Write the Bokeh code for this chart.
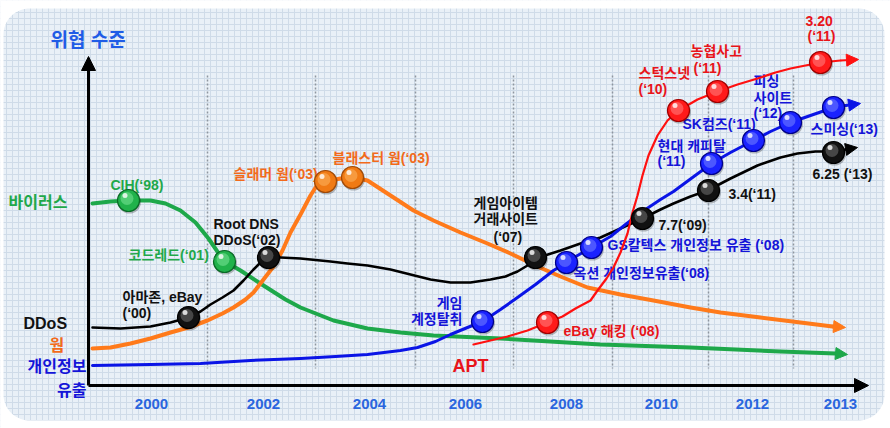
import numpy as np
from bokeh.plotting import figure
from bokeh.models import Range1d, Grid, SingleIntervalTicker, Arrow, NormalHead, ColumnDataSource
from bokeh.core.properties import value
from bokeh.embed import file_html
from bokeh.resources import INLINE

# ---------------- data (schematic timeline position, threat level in chart units) -------------
# Virus (green)
virus_x = [92, 110, 128, 150, 165, 180, 195, 208, 223, 240, 263, 285, 300, 333, 367, 400, 433, 500, 600, 690, 780, 835, 847]
virus_y = [203, 201, 200, 200, 203, 210, 222, 238, 260, 270, 285, 299, 307, 320, 328, 332, 335, 338, 344, 347, 351, 353, 354]
virus_evt_x = [128, 224]
virus_evt_y = [200, 261]

# Worm (orange)
worm_x = [92, 110, 130, 150, 170, 188, 207, 222, 233, 245, 253, 263, 273, 282, 290, 300, 310, 317, 325, 340, 353, 367, 390,
          413, 433, 460, 487, 510, 537, 560, 587, 620, 653, 690, 720, 760, 800, 832, 845]
worm_y = [348, 347, 343, 338, 332, 327, 320, 313, 307, 299, 292, 279, 266, 250, 232, 214, 195, 184, 181, 178, 177, 180, 195,
          210, 220, 232, 243, 253, 266, 276, 287, 294, 300, 307, 312, 317, 322, 326, 327]
worm_evt_x = [325, 352]
worm_evt_y = [181, 177]

# DDoS (black)
ddos_x = [92, 120, 150, 170, 188, 200, 210, 222, 233, 243, 253, 261, 268, 280, 300, 330, 347, 367, 390, 410, 430, 450, 470,
          490, 505, 517, 527, 535, 560, 580, 600, 620, 642, 660, 673, 690, 707, 730, 757, 780, 797, 815, 833, 845, 857]
ddos_y = [327, 328, 326, 322, 317, 311, 304, 297, 290, 280, 269, 261, 257, 257, 258, 261, 263, 265, 269, 274, 279, 282, 282,
          279, 276, 271, 265, 258, 250, 243, 237, 228, 218, 209, 203, 196, 190, 178, 165, 157, 153, 151, 151, 149, 147]
ddos_evt_x = [188, 268, 535, 642, 708, 833]
ddos_evt_y = [317, 257, 257, 218, 190, 152]

# Personal information leak (blue)
leak_x = [92, 150, 200, 250, 300, 335, 367, 400, 417, 435, 450, 467, 482, 500, 517, 535, 553, 566, 577, 591, 610, 625, 642,
          660, 673, 692, 711, 730, 753, 770, 790, 810, 833, 845, 860]
leak_y = [365, 364, 363, 360, 358, 356, 354, 350, 347, 341, 334, 327, 321, 309, 297, 284, 270, 262, 255, 247, 236, 224, 211,
          199, 191, 177, 163, 152, 140, 131, 122, 115, 107, 105, 103]
leak_evt_x = [482, 566, 591, 711, 753, 790, 833]
leak_evt_y = [321, 262, 247, 163, 140, 122, 107]

# APT (red)
apt_x = [473, 490, 507, 527, 547, 562, 575, 590, 597, 606, 613, 620, 627, 632, 637, 642, 648, 657, 667, 678, 697, 717, 737,
         757, 775, 790, 805, 820, 840, 858]
apt_y = [344, 340, 336, 330, 322, 316, 308, 300, 290, 278, 267, 252, 233, 212, 195, 175, 155, 135, 120, 110, 99, 91, 84,
         78, 72, 68, 65, 62, 60, 59]
apt_evt_x = [547, 678, 717, 820]
apt_evt_y = [322, 110, 91, 62]

# Year ticks on the time axis
year_labels = ["2000", "2002", "2004", "2006", "2008", "2010", "2012", "2013"]
year_pos = [151, 263, 369, 465, 566, 661, 752, 840]
divider_pos = [207, 315, 415, 513, 612, 708, 793]

# Event / series labels
GREEN_T, ORANGE_T, BLACK_T, BLUE_T, RED_T = "#1fa84a", "#f26a1b", "#111111", "#1414d8", "#e8141a"
label_text = ["CIH(‘98)", "코드레드(‘01)", "아마존, eBay", "(‘00)", "Root DNS", "DDoS(‘02)",
              "슬래머 웜(‘03)", "블래스터 웜(‘03)", "게임아이템", "거래사이트", "(‘07)",
              "게임", "계정탈취", "eBay 해킹 (‘08)", "옥션 개인정보유출(‘08)", "GS칼텍스 개인정보 유출 (‘08)",
              "7.7(‘09)", "3.4(‘11)", "6.25 (‘13)", "현대 캐피탈", "(‘11)", "SK컴즈(‘11)",
              "피싱", "사이트", "(‘12)", "스미싱(‘13)", "스턱스넷", "(‘10)", "농협사고", "(‘11)", "3.20", "(‘11)"]
label_x = [110, 128, 122, 122, 213, 213, 233, 332, 473, 473, 493, 462, 462, 563, 573, 607,
           658, 728, 812, 657, 657, 682, 753, 753, 753, 810, 638, 638, 690, 693, 805, 807]
label_y = [184, 254, 296, 312, 223, 239, 173, 157, 202, 218, 236, 302, 318, 330, 272, 244,
           224, 193, 173, 145, 160, 123, 80, 97, 112, 128, 72, 88, 50, 67, 20, 35]
label_color = [GREEN_T, GREEN_T, BLACK_T, BLACK_T, BLACK_T, BLACK_T, ORANGE_T, ORANGE_T, BLACK_T, BLACK_T, BLACK_T,
               BLUE_T, BLUE_T, RED_T, BLUE_T, BLUE_T, BLACK_T, BLACK_T, BLACK_T, BLUE_T, BLUE_T, BLUE_T,
               BLUE_T, BLUE_T, BLUE_T, BLUE_T, RED_T, RED_T, RED_T, RED_T, RED_T, RED_T]
label_align = ["left"] * 11 + ["right", "right"] + ["left"] * 19

series_text = ["바이러스", "DDoS", "웜", "개인정보", "유출", "APT"]
series_x = [8, 23, 49, 86, 86, 452]
series_y = [202, 323, 345, 366, 390, 365]
series_color = [GREEN_T, BLACK_T, ORANGE_T, BLUE_T, BLUE_T, RED_T]
series_align = ["left", "left", "left", "right", "right", "left"]
series_size = ["16px", "16px", "16px", "16px", "16px", "18px"]

FONT = value("Liberation Sans, Noto Sans CJK KR")

# ---------------- figure ----------------
p = figure(width=890, height=428, x_range=Range1d(0, 890), y_range=Range1d(428, 0),
           x_axis_type=None, y_axis_type=None, output_backend="svg", toolbar_location=None,
           min_border=0, background_fill_color="#e9f0f7", border_fill_color="white")
p.outline_line_color = None

for dim in (0, 1):
    p.add_layout(Grid(dimension=dim, ticker=SingleIntervalTicker(interval=6),
                      grid_line_color="#cfdbe8", grid_line_width=1))

# white surround with a rounded-rectangle hole (the light panel)
r = 26
L, R, T, B = 3, 884, 8, 420
hx, hy = [], []
for cx, cy, a0, a1 in [(R - r, T + r, 0, 90), (L + r, T + r, 90, 180), (L + r, B - r, 180, 270), (R - r, B - r, 270, 360)]:
    t = np.radians(np.linspace(a0, a1, 24))
    hx += list(cx + r * np.cos(t))
    hy += list(cy - r * np.sin(t))
outer_x = [-10, 900, 900, -10]
outer_y = [-10, -10, 440, 440]
p.multi_polygons(xs=[[[outer_x, hx]]], ys=[[[outer_y, hy]]], fill_color="white", line_color=None)

# dotted year dividers
p.segment(x0=divider_pos, y0=[75] * len(divider_pos), x1=divider_pos, y1=[368] * len(divider_pos),
          line_color="#8f969f", line_width=1.5, line_dash="2 2")

# title and year labels
p.text(x=[50], y=[40], text=["위협 수준"], text_font=FONT, text_font_style="bold", text_font_size="19px",
       text_color="#1f5ce6", text_baseline="middle")
p.text(x=year_pos, y=[403] * len(year_pos), text=year_labels, text_font=value("Liberation Sans"),
       text_font_style="bold", text_font_size="15px", text_color="#2a66de", text_align="center",
       text_baseline="middle")

# labels
src = ColumnDataSource(dict(x=label_x, y=label_y, text=label_text, color=label_color, align=label_align))
p.text(x="x", y="y", text="text", text_color="color", text_align="align", source=src, text_font=FONT,
       text_font_style="bold", text_font_size="14px", text_baseline="middle")
src2 = ColumnDataSource(dict(x=series_x, y=series_y, text=series_text, color=series_color,
                             align=series_align, size=series_size))
p.text(x="x", y="y", text="text", text_color="color", text_align="align", text_font_size="size",
       source=src2, text_font=FONT, text_font_style="bold", text_baseline="middle")

# axes arrows
p.add_layout(Arrow(end=NormalHead(size=14, fill_color="black", line_color="black"),
                   x_start=88, y_start=385, x_end=868, y_end=385, line_color="black", line_width=3))
p.add_layout(Arrow(end=NormalHead(size=14, fill_color="black", line_color="black"),
                   x_start=88, y_start=385, x_end=88, y_end=56, line_color="black", line_width=3))

# curves
curves = [(virus_x, virus_y, "#1ea84a", 4), (worm_x, worm_y, "#ff7a1a", 4), (ddos_x, ddos_y, "#000000", 2.6),
          (leak_x, leak_y, "#0a14e6", 3), (apt_x, apt_y, "#ff1010", 2.2)]
for xs, ys, c, w in curves:
    p.line(xs[:-1], ys[:-1], line_color=c, line_width=w, line_join="round", line_cap="round")
    p.add_layout(Arrow(end=NormalHead(size=12, fill_color=c, line_color=c), x_start=xs[-2], y_start=ys[-2],
                       x_end=xs[-1], y_end=ys[-1], line_color=c, line_width=w))


def balls(xs, ys, fill, edge, light):
    xs = np.array(xs, dtype=float)
    ys = np.array(ys, dtype=float)
    p.scatter(xs + 1, ys + 1.5, size=23, fill_color="black", fill_alpha=0.25, line_alpha=0)
    p.scatter(xs, ys, size=22, fill_color=fill, line_color=edge, line_width=1.2)
    p.scatter(xs - 1.5, ys - 2, size=13, fill_color=light, fill_alpha=0.45, line_alpha=0)
    p.scatter(xs - 3.5, ys - 5, size=5, fill_color="white", fill_alpha=0.8, line_alpha=0)


balls(virus_evt_x, virus_evt_y, "#21b24b", "#0b6a27", "#8ff0a8")
balls(worm_evt_x, worm_evt_y, "#f07a14", "#a04a08", "#ffc070")
balls(ddos_evt_x, ddos_evt_y, "#111111", "#000000", "#888888")
balls(leak_evt_x, leak_evt_y, "#1a22ff", "#00008a", "#8a98ff")
balls(apt_evt_x, apt_evt_y, "#ff1a1a", "#a00000", "#ff9a9a")

open("out.html", "w").write(file_html(p, INLINE))
